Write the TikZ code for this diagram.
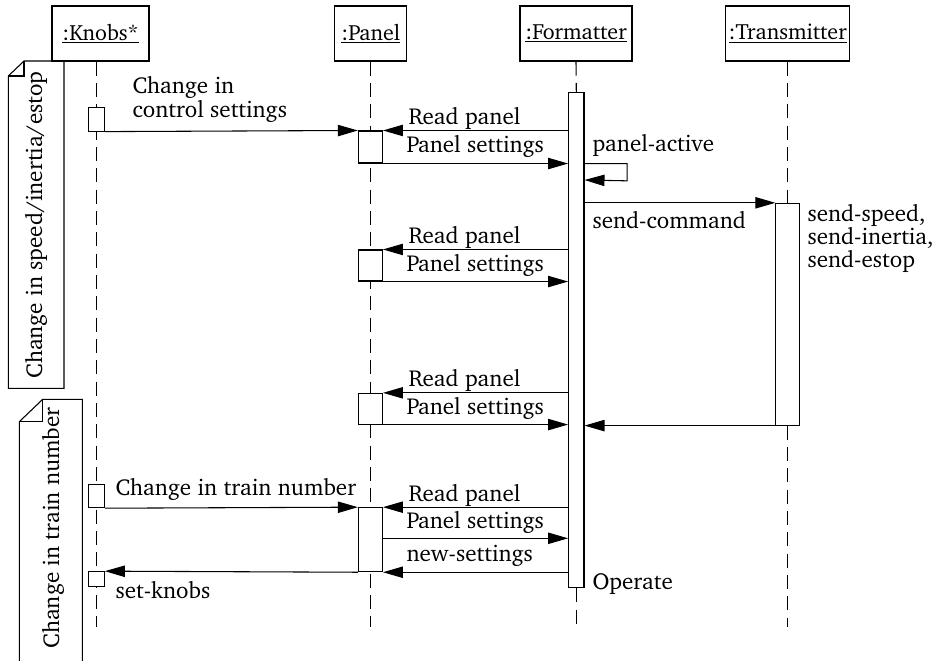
\documentclass[tikz,border=0pt]{standalone}
\usepackage[T1]{fontenc}
\usepackage{charter}
\usetikzlibrary{arrows.meta}
\begin{document}
\begin{tikzpicture}[x=0.75pt,y=-0.75pt,line width=0.8pt,
  font=\fontsize{17.3}{20}\selectfont,
  msg/.style={-{Triangle[length=15pt,width=8.5pt]}},
  life/.style={dash pattern=on 10.5pt off 5.5pt},
  obj/.style={draw,fill=white,inner sep=0pt,minimum height=41.25pt,font=\fontsize{16.5}{20}\selectfont},
  act/.style={draw,fill=white,inner sep=0pt},
  lbl/.style={anchor=base west,inner sep=0pt}]
\clip (0,0) rectangle (940,661);
\fill[white] (0,0) rectangle (940,661);
% objects
\node[obj,minimum width=72.75pt] (knobs) at (100.5,33.5) {\underline{:Knobs*}};
\node[obj,minimum width=54pt] (panel) at (370.7,33.5) {\underline{:Panel}};
\node[obj,minimum width=84pt] (fmt) at (576,33.5) {\underline{:Formatter}};
\node[obj,minimum width=93pt] (tr) at (787.7,33.5) {\underline{:Transmitter}};
% lifeline ends
\coordinate (kl) at (96.4,627);
\coordinate (sel) at (0,180);
\coordinate (ps4) at (0,538.3);
% lifelines
\draw[life] (knobs.south -| kl) -- (kl);
\draw[life] (panel.south) -- (panel.south |- kl);
% activations
\node[act,minimum width=17.7pt,minimum height=166.3pt] (ta) at (787.7,314.2) {};
\node[act,minimum width=11.5pt,minimum height=371.25pt] (fa) at (576.3,340.2) {};
\draw[life] (fmt.south) -- (fa.north);
\draw[life] (fa.south) -- (fa.south |- kl);
\draw[life] (tr.south) -- (ta.north);
\draw[life] (ta.south) -- (ta.south |- kl);
\node[act,minimum width=11.7pt,minimum height=17.8pt] (ka1) at (96.5,119.2) {};
\node[act,minimum width=11.7pt,minimum height=17.5pt] (ka2) at (96.5,496) {};
\node[act,minimum width=11.7pt,minimum height=11.25pt] (ka3) at (96.5,579.2) {};
\node[act,minimum width=18pt,minimum height=24pt] (pa1) at (370.4,147) {};
\node[act,minimum width=18pt,minimum height=23.25pt] (pa2) at (370.4,265.5) {};
\node[act,minimum width=18pt,minimum height=23pt] (pa3) at (370.4,408.7) {};
\node[act,minimum width=18pt,minimum height=48pt] (pa4) at (370.4,539.7) {};
% notes
\draw (8.3,76) -- (24,61) -- (64,61) -- (64,388.3) -- (8.3,388.3) -- cycle;
\draw (8.3,76) -- (24,76) -- (24,61);
\node[rotate=90] (n1) at (36,225) {Change in speed/inertia/estop};
\draw (19.3,421.7) -- (42.7,399.3) -- (82.3,399.3) -- (82.3,690) -- (19.3,690) -- cycle;
\draw (19.3,421.7) -- (42.7,421.7) -- (42.7,399.3);
\node[rotate=90] (n2) at (53,528) {Change in train number};
% messages
\draw[msg] (ka1.south east) -- (pa1.north west);
\node[lbl] (l1a) at (132,93) {Change in};
\node[lbl] (l1b) at (132,117) {control settings};
\draw[msg] (fa.west |- pa1.north) -- (pa1.north east);
\node[lbl] (l2) at (408,124) {Read panel};
\draw[msg] (pa1.south east) -- (fa.west |- pa1.south);
\node[lbl] (l3) at (406,152.5) {Panel settings};
\draw[msg] (fa.east |- pa1.south) -- ++(42.7,0) -- ++(0,17.3) -- (fa.east |- sel);
\node[lbl] (l4) at (592,151) {panel-active};
\draw[msg] (fa.east |- ta.north) -- (ta.north west);
\node[lbl] (l5) at (592,228) {send-command};
\node[lbl] (l6a) at (807,221.5) {send-speed,};
\node[lbl] (l6b) at (807,244.5) {send-inertia,};
\node[lbl] (l6c) at (807,267.5) {send-estop};
\draw[msg] (fa.west |- pa2.north) -- (pa2.north east);
\node[lbl] (l7) at (408,243) {Read panel};
\draw[msg] (pa2.south east) -- (fa.west |- pa2.south);
\node[lbl] (l8) at (406,271) {Panel settings};
\draw[msg] (fa.west |- pa3.north) -- (pa3.north east);
\node[lbl] (l9) at (408,386) {Read panel};
\draw[msg] (pa3.south east) -- (fa.west |- pa3.south);
\node[lbl] (l10) at (406,414) {Panel settings};
\draw[msg] (ta.south west) -- (fa.east |- ta.south);
\draw[msg] (ka2.south east) -- (pa4.north west);
\node[lbl] (l11) at (115,495) {Change in train number};
\draw[msg] (fa.west |- pa4.north) -- (pa4.north east);
\node[lbl] (l12) at (408,501) {Read panel};
\draw[msg] (pa4.east |- ps4) -- (fa.west |- ps4);
\node[lbl] (l13) at (406,528) {Panel settings};
\draw[msg] (fa.west |- pa4.south) -- (pa4.south east);
\node[lbl] (l14) at (406,561) {new-settings};
\draw[msg] (pa4.south west) -- (ka3.north east);
\node[lbl] (l15) at (115,598) {set-knobs};
\node[lbl] (l16) at (592,589) {Operate};
\end{tikzpicture}
\end{document}
